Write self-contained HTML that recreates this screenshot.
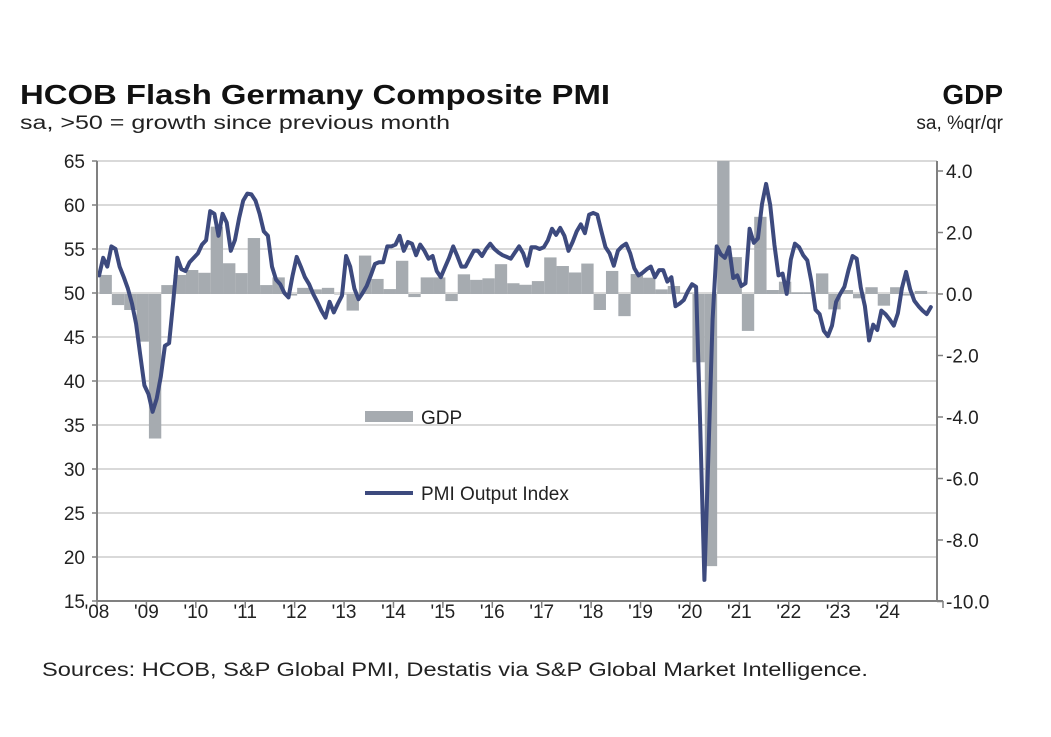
<!DOCTYPE html>
<html><head><meta charset="utf-8"><style>
html,body{margin:0;padding:0;background:#fff;}
svg{display:block;font-family:"Liberation Sans",Arial,sans-serif;}
</style></head><body>
<svg id="chart" width="1051" height="737" viewBox="0 0 1051 737">
<text x="20" y="104" font-size="28" font-weight="bold" fill="#111" textLength="590" lengthAdjust="spacingAndGlyphs">HCOB Flash Germany Composite PMI</text>
<text x="20" y="129" font-size="19" fill="#222" textLength="430" lengthAdjust="spacingAndGlyphs">sa, &gt;50 = growth since previous month</text>
<text x="1003" y="104" font-size="28" font-weight="bold" fill="#111" text-anchor="end">GDP</text>
<text x="1003" y="129" font-size="19" fill="#222" text-anchor="end">sa, %qr/qr</text>
<text x="42" y="676" font-size="19" fill="#222" textLength="826" lengthAdjust="spacingAndGlyphs">Sources: HCOB, S&amp;P Global PMI, Destatis via S&amp;P Global Market Intelligence.</text>
<defs><clipPath id="plotclip"><rect x="97" y="161" width="840" height="440"/></clipPath></defs>
<g id="grid"></g><g id="bars" clip-path="url(#plotclip)"></g><g id="line"></g><g id="axes"></g>
<g>
<rect x="365" y="411" width="48" height="11" fill="#a6abb0"/>
<text x="421" y="424" font-size="19" fill="#222">GDP</text>
<line x1="365" y1="493" x2="413" y2="493" stroke="#3d4a7e" stroke-width="4"/>
<text x="421" y="500" font-size="19" fill="#222">PMI Output Index</text>
</g>
</svg>
<script>
const yearLabels = ["'08","'09","'10","'11","'12","'13","'14","'15","'16","'17","'18","'19","'20","'21","'22","'23","'24"];
const leftTicks = [15,20,25,30,35,40,45,50,55,60,65];
const rightTicks = [4,2,0,-2,-4,-6,-8,-10];
const pmi2008 = [52.0,54.0,53.0,55.3,55.0,53.0,51.8,50.5,48.8,46.5,43.0,39.5];
const pmi2009 = [38.5,36.5,38.0,40.5,44.0,44.3,49.0,54.0,52.7,52.5,53.5,54.0];
const pmi2010 = [54.5,55.5,56.0,59.3,59.0,56.5,59.0,58.0,54.8,56.0,58.5,60.5];
const pmi2011 = [61.3,61.2,60.5,59.0,57.0,56.5,53.0,51.5,51.0,50.0,49.5,52.0];
const pmi2012 = [54.1,53.0,51.8,51.0,49.9,49.0,48.0,47.2,49.0,47.8,48.8,49.7];
const pmi2013 = [54.2,53.0,50.5,49.3,50.0,50.8,52.0,53.3,53.5,53.5,55.3,55.3];
const pmi2014 = [55.5,56.5,54.8,55.8,55.6,54.3,55.5,54.8,53.9,54.2,52.5,51.8];
const pmi2015 = [52.9,54.0,55.3,54.2,53.0,53.0,53.9,54.8,54.8,54.2,55.0,55.6];
const pmi2016 = [55.0,54.6,54.3,54.1,53.9,54.6,55.3,54.5,53.1,55.2,55.2,55.0];
const pmi2017 = [55.2,56.0,57.3,56.6,57.4,56.5,54.8,55.8,57.0,57.8,56.8,58.9];
const pmi2018 = [59.1,58.9,57.0,55.2,54.5,53.1,54.8,55.3,55.6,54.5,52.8,52.0];
const pmi2019 = [52.3,52.7,53.0,51.8,52.6,52.6,51.3,51.8,48.5,48.8,49.2,50.2];
const pmi2020 = [51.0,50.7,35.0,17.4,32.0,47.0,55.3,54.4,54.0,55.2,51.7,52.0];
const pmi2021 = [50.8,51.1,57.3,55.7,56.2,60.1,62.4,60.0,55.5,52.0,52.2,49.9];
const pmi2022 = [53.8,55.6,55.2,54.3,53.7,51.3,48.1,47.6,45.7,45.1,46.3,49.0];
const pmi2023 = [49.9,50.7,52.6,54.2,53.9,50.6,48.5,44.6,46.4,45.8,48.0,47.6];
const pmi2024 = [47.0,46.3,47.7,50.6,52.4,50.4,49.1,48.5,48.0,47.6,48.4];
const gdpQuarterly = [0.62,-0.36,-0.52,-1.55, -4.7,0.29,0.62,0.78, 0.69,2.19,1.0,0.68, 1.82,0.29,0.54,-0.05,
 0.2,0.15,0.2,0.0, -0.54,1.25,0.49,0.16, 1.08,-0.1,0.54,0.54, -0.23,0.64,0.46,0.51, 0.97,0.35,0.3,0.42,
 1.19,0.91,0.7,0.99, -0.52,0.75,-0.72,0.65, 0.53,0.15,0.26,0.02, -2.22,-8.85,8.7,1.2, -1.2,2.51,0.13,0.4,
 0.05,0.05,0.67,-0.5, 0.13,-0.14,0.22,-0.38, 0.22,-0.05,0.1];
const pmi = [].concat(pmi2008,pmi2009,pmi2010,pmi2011,pmi2012,pmi2013,pmi2014,pmi2015,pmi2016,pmi2017,pmi2018,pmi2019,pmi2020,pmi2021,pmi2022,pmi2023,pmi2024);

const NS = "http://www.w3.org/2000/svg";
const X0 = 97, X1 = 937, YT = 161, YB = 601;
const monthW = (X1 - X0) / 204;
function xMonth(m){ return X0 + monthW * m; }
function yLeft(v){ return YB - (v - 15) * (YB - YT) / 50; }
function yRight(v){ return 294 - v * 30.75; }
function mk(tag, attrs, parent){ const e = document.createElementNS(NS, tag); for (const k in attrs) e.setAttribute(k, attrs[k]); parent.appendChild(e); return e; }

const grid = document.getElementById('grid');
const axes = document.getElementById('axes');
leftTicks.forEach(v => {
  const y = yLeft(v);
  if (v > 15) {
    const g = mk('line', {x1:X0, x2:X1, y1:y, y2:y, stroke:'#d9d9d9', 'stroke-width':2}, grid);
    
    
  }
  mk('line', {x1:X0-5, x2:X0, y1:y, y2:y, stroke:'#808080', 'stroke-width':1.5}, axes);
  const t = mk('text', {x:85, y:y+7, 'font-size':19, fill:'#222', 'text-anchor':'end'}, axes);
  t.textContent = v;
  
  
});
rightTicks.forEach(v => {
  const y = yRight(v);
  mk('line', {x1:X1, x2:X1+6, y1:y, y2:y, stroke:'#808080', 'stroke-width':1.5}, axes);
  const t = mk('text', {x:946, y:y+7, 'font-size':19, fill:'#222'}, axes);
  t.textContent = v.toFixed(1);
  
  
});
yearLabels.forEach((lab, i) => {
  const x = xMonth(i * 12);
  mk('line', {x1:x, x2:x, y1:YB, y2:YB+7, stroke:'#808080', 'stroke-width':1.5}, axes);
  const t = mk('text', {x:x, y:618, 'font-size':19, fill:'#222', 'text-anchor':'middle'}, axes);
  t.textContent = lab;
  
  
});
mk('line', {x1:X1+6, x2:X1+6, y1:YB, y2:YB+7, stroke:'#808080', 'stroke-width':1.5}, axes);
const la = mk('line', {x1:X0, x2:X0, y1:YT, y2:YB, stroke:'#808080', 'stroke-width':2}, axes);


const ra = mk('line', {x1:X1, x2:X1, y1:YT, y2:YB, stroke:'#808080', 'stroke-width':2}, axes);


const ba = mk('line', {x1:X0, x2:X1+6, y1:YB, y2:YB, stroke:'#808080', 'stroke-width':2}, axes);



const bars = document.getElementById('bars');
gdpQuarterly.forEach((v, q) => {
  const x = xMonth(q * 3) + 2.5;
  const w = monthW * 3;
  const y0 = yRight(0), y1 = yRight(v);
  const r = mk('rect', {x:x, y:Math.min(y0,y1), width:w, height:Math.max(Math.abs(y1-y0),0.5), fill:'#a6abb0'}, bars);
  
  
});

const pts = pmi.map((v, m) => xMonth(m + 0.5).toFixed(1) + ',' + yLeft(v).toFixed(1)).join(' ');
const pl = mk('polyline', {points:pts, fill:'none', stroke:'#3d4a7e', 'stroke-width':4, 'stroke-linejoin':'round', 'stroke-linecap':'round'}, document.getElementById('line'));


</script>
</body></html>
